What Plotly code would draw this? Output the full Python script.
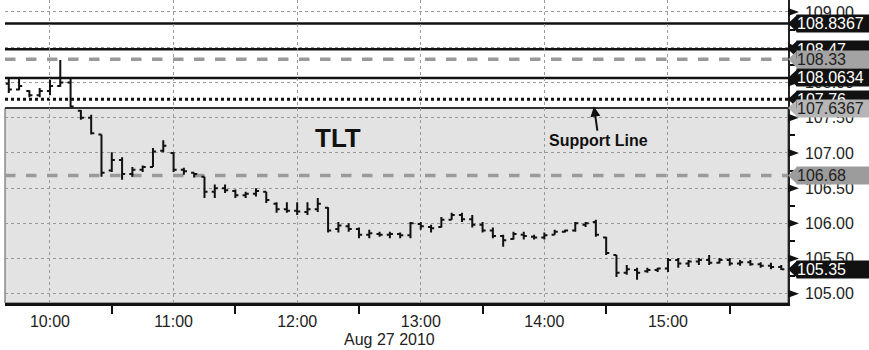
import plotly.graph_objects as go
import pandas as pd

# ---------------- data ----------------
bar_times = pd.date_range("2010-08-27 09:40", "2010-08-27 15:55", freq="5min")

opens = [107.98,107.90,107.88,107.82,107.88,107.95,108.00,107.60,107.50,107.26,
         106.75,106.90,106.70,106.76,106.80,107.03,107.00,106.76,106.72,106.66,
         106.45,106.50,106.46,106.40,106.42,106.45,106.28,106.20,106.18,106.16,
         106.20,106.22,105.92,105.96,105.92,105.84,105.85,105.84,105.85,105.83,
         105.99,105.95,105.95,106.05,106.12,106.06,105.98,105.90,105.82,105.78,
         105.84,105.81,105.80,105.84,105.88,105.90,105.98,106.02,105.80,105.55,
         105.30,105.34,105.32,105.34,105.36,105.48,105.43,105.46,105.48,105.44,
         105.48,105.43,105.45,105.42,105.40,105.38]
highs = [108.06,108.05,107.89,107.92,108.04,108.32,108.06,107.61,107.54,107.26,
         107.01,106.94,106.80,106.82,107.07,107.18,107.01,106.79,106.72,106.66,
         106.55,106.55,106.48,106.45,106.50,106.45,106.30,106.30,106.30,106.30,
         106.36,106.23,106.02,106.00,105.94,105.91,105.88,105.88,105.87,106.02,
         106.02,105.98,106.09,106.15,106.15,106.12,106.02,105.94,105.84,105.88,
         105.88,105.84,105.87,105.91,105.91,106.02,106.02,106.05,105.81,105.55,
         105.41,105.37,105.37,105.37,105.51,105.51,105.48,105.51,105.55,105.51,
         105.51,105.48,105.48,105.45,105.44,105.41]
lows = [107.85,107.89,107.79,107.79,107.82,107.94,107.65,107.47,107.26,106.66,
        106.73,106.62,106.66,106.73,106.80,107.01,106.73,106.69,106.65,106.36,
        106.36,106.43,106.36,106.36,106.38,106.29,106.15,106.15,106.12,106.12,
        106.16,105.87,105.87,105.88,105.79,105.79,105.81,105.79,105.79,105.79,
        105.91,105.87,105.94,106.05,106.02,105.94,105.87,105.79,105.67,105.77,
        105.77,105.77,105.77,105.84,105.87,105.88,105.95,105.81,105.55,105.24,
        105.27,105.20,105.30,105.31,105.31,105.37,105.38,105.41,105.41,105.43,
        105.40,105.40,105.40,105.37,105.35,105.34]
closes = [107.90,107.95,107.82,107.88,107.95,108.00,107.66,107.50,107.28,106.72,
          106.90,106.70,106.76,106.80,107.02,107.10,106.76,106.74,106.70,106.45,
          106.50,106.47,106.40,106.42,106.46,106.33,106.20,106.18,106.17,106.20,
          106.28,105.90,105.97,105.92,105.84,105.86,105.84,105.85,105.83,106.00,
          105.96,105.93,106.05,106.12,106.06,105.98,105.90,105.82,105.76,105.85,
          105.82,105.80,105.83,105.88,105.90,106.00,106.00,105.84,105.58,105.30,
          105.35,105.30,105.34,105.36,105.48,105.43,105.46,105.48,105.44,105.48,
          105.43,105.45,105.42,105.40,105.38,105.35]

level_values = [108.8367, 108.47, 108.33, 108.0634, 107.76, 107.6367, 106.68]
level_labels = ["108.8367", "108.47", "108.33", "108.0634", "107.76", "107.6367", "106.68"]
last_price = 105.35
last_label = "105.35"
support_level = 107.6367
y_tick_values = [105.0, 105.5, 106.0, 106.5, 107.0, 107.5, 108.0, 108.5, 109.0]
y_minor_values = [105.25, 105.75, 106.25, 106.75, 107.25, 107.75, 108.25, 108.75]
chart_title = "TLT"
support_text = "Support Line"
date_text = "Aug 27 2010"

# ---------------- styles ----------------
level_styles = [
    dict(color="#111111", width=2.5, dash="solid"),
    dict(color="#111111", width=2.5, dash="solid"),
    dict(color="#9a9a9a", width=3.5, dash="dash"),
    dict(color="#111111", width=2.5, dash="solid"),
    dict(color="#111111", width=3, dash="dot"),
    dict(color="#333333", width=2, dash="solid"),
    dict(color="#9a9a9a", width=3.5, dash="dash"),
]
label_bg = ["#111111", "#111111", "#a3a3a3", "#111111", "#111111", "#b5b5b5", "#9c9c9c"]
label_fg = ["white", "white", "#222222", "white", "white", "#222222", "#222222"]

W, H = 869, 350
ML, MR, MT, MB = 5, 81, 0, 47
PW, PH = W - ML - MR, H - MT - MB
Y0, Y1 = 104.87, 109.17
DY = (Y1 - Y0) / PH   # data units per pixel
DX = 1.0 / PW         # paper units per pixel
FONT = "Liberation Sans, Arial, sans-serif"

fig = go.Figure()
fig.add_trace(go.Ohlc(
    x=bar_times, open=opens, high=highs, low=lows, close=closes,
    increasing=dict(line=dict(color="#111111", width=2)),
    decreasing=dict(line=dict(color="#111111", width=2)),
    tickwidth=0.3, showlegend=False, hoverinfo="skip",
))

shapes = []
shapes.append(dict(type="rect", xref="paper", yref="y", x0=0, x1=1, y0=Y0, y1=support_level,
                   fillcolor="#e3e3e3", line=dict(color="#555555", width=1), layer="below"))
for v, st in zip(level_values, level_styles):
    shapes.append(dict(type="line", xref="paper", yref="y", x0=0, x1=1, y0=v, y1=v,
                       line=st, layer="below"))
for v in y_tick_values:
    shapes.append(dict(type="path", xref="paper", yref="y",
                       path=f"M 1,{v-4*DY} L {1+11*DX},{v} L 1,{v+4*DY} Z",
                       fillcolor="#111111", line=dict(width=0), layer="above"))

annotations = []
all_vals = level_values + [last_price]
all_txt = level_labels + [last_label]
all_bg = label_bg + ["#111111"]
all_fg = label_fg + ["white"]
for v, t, bg, fg in zip(all_vals, all_txt, all_bg, all_fg):
    shapes.append(dict(type="path", xref="paper", yref="y",
                       path=f"M 1,{v} L {1+9*DX},{v+8.5*DY} L {1+9*DX},{v-8.5*DY} Z",
                       fillcolor=bg, line=dict(width=0), layer="above"))
    annotations.append(dict(xref="paper", yref="y", x=1, y=v, xshift=8, xanchor="left",
                            yanchor="middle", text=t, showarrow=False, bgcolor=bg,
                            font=dict(family=FONT, size=16, color=fg), width=76, height=17,
                            align="left", borderpad=0))

annotations.append(dict(xref="x", yref="y", x="2010-08-27 12:20", y=107.21, text=f"<b>{chart_title}</b>",
                        showarrow=False, font=dict(family=FONT, size=26, color="#111111")))
annotations.append(dict(xref="x", yref="y", x="2010-08-27 14:24", y=support_level + 2.5 * DY,
                        text=f"<b>{support_text}</b>", showarrow=True, ax=5, ay=35,
                        arrowhead=2, arrowsize=1, arrowwidth=2, arrowcolor="#111111", standoff=1,
                        font=dict(family=FONT, size=16, color="#111111")))
annotations.append(dict(xref="x", yref="paper", x="2010-08-27 12:45", y=0, yanchor="top", yshift=-26,
                        text=date_text, showarrow=False, font=dict(family=FONT, size=16, color="#222222")))

fig.update_layout(
    width=W, height=H, margin=dict(l=ML, r=MR, t=MT, b=MB, autoexpand=False),
    paper_bgcolor="white", plot_bgcolor="white",
    shapes=shapes, annotations=annotations, showlegend=False,
    font=dict(family=FONT, size=16, color="#222222"),
)
fig.update_xaxes(
    type="date", range=["2010-08-27 09:38:10", "2010-08-27 15:58:16"],
    rangeslider=dict(visible=False), automargin=False,
    tick0="2010-08-27 10:00", dtick=3600000, tickformat="%H:%M",
    ticks="", ticklabelstandoff=2,
    showgrid=True, gridcolor="#9a9a9a", griddash="dot", gridwidth=1,
    showline=True, linecolor="#111111", linewidth=3,
    minor=dict(tick0="2010-08-27 09:30", dtick=1800000, ticks="outside", ticklen=8,
               tickcolor="#111111", tickwidth=1.5, showgrid=False),
    zeroline=False,
)
fig.update_yaxes(
    side="right", range=[Y0, Y1], tickmode="array", tickvals=y_tick_values,
    ticktext=[f"{v:.2f}" for v in y_tick_values], automargin=False,
    ticks="outside", ticklen=10, tickcolor="rgba(0,0,0,0)", ticklabelstandoff=2,
    showgrid=True, gridcolor="#9a9a9a", griddash="dot", gridwidth=1,
    showline=True, linecolor="#222222", linewidth=1.5,
    minor=dict(tickvals=y_minor_values,
               ticks="outside", ticklen=5, tickcolor="#111111", tickwidth=1.5, showgrid=False),
    zeroline=False,
)

fig.write_html("out.html", config={"displayModeBar": False},
               post_script="document.body.style.margin='0';document.body.style.padding='0';")
